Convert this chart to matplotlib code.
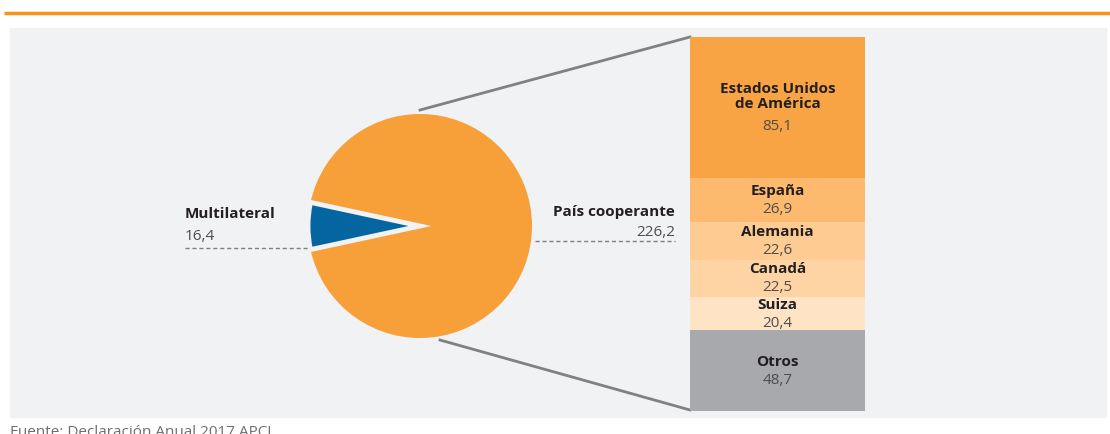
import matplotlib
matplotlib.use('Agg')
import matplotlib.pyplot as plt

# data
pie_labels = ['Multilateral', 'País cooperante']
pie_values = [16.4, 226.2]
pie_texts = ['16,4', '226,2']

paises = ['Estados Unidos\nde América', 'España', 'Alemania', 'Canadá', 'Suiza', 'Otros']
montos = [85.1, 26.9, 22.6, 22.5, 20.4, 48.7]
montos_txt = ['85,1', '26,9', '22,6', '22,5', '20,4', '48,7']

bar_colors = ['#f8a444', '#fdb96e', '#fecb93', '#fed4a4', '#fee3c5', '#a7a9ac']
orange = '#f79f39'
blue = '#0565a0'
bg = '#f1f2f4'
dark = '#231f20'
grey_txt = '#4d4d4f'

plt.rcParams['font.family'] = ['Open Sans', 'DejaVu Sans']

W, H = 1110, 434
fig = plt.figure(figsize=(W / 100, H / 100), dpi=100)

# background axes in pixel units (y downwards)
ax = fig.add_axes([0, 0, 1, 1])
ax.set_xlim(0, W)
ax.set_ylim(H, 0)
ax.axis('off')

ax.add_patch(plt.Rectangle((10, 28), 1096, 389, color=bg, zorder=0))
ax.plot([4, W], [13, 13], color='#f7941d', lw=2.5, solid_capstyle='butt')

# connector lines
ax.plot([420, 690], [110, 37], color='#808184', lw=2)
ax.plot([440, 690], [340, 410], color='#808184', lw=2)

# dashed leader lines
ax.plot([185, 308], [248, 248], color='#808184', lw=1, ls=(0, (3, 2)))
ax.plot([535, 675], [241, 241], color='#808184', lw=1, ls=(0, (3, 2)))

ax.text(185, 214, pie_labels[0], fontsize=11, fontweight='bold', color=dark,
        va='center', ha='left')
ax.text(185, 236, pie_texts[0], fontsize=11, color=grey_txt, va='center', ha='left')
ax.text(675, 212, pie_labels[1], fontsize=11, fontweight='bold', color=dark,
        va='center', ha='right')
ax.text(675, 232, pie_texts[1], fontsize=11, color=grey_txt, va='center', ha='right')

ax.text(10, 440, 'Fuente: Declaración Anual 2017 APCI', fontsize=11,
        color='#6d6e71', va='bottom', ha='left')

# pie
cx, cy, r = 420, 226, 112
pax = fig.add_axes([(cx - r) / W, 1 - (cy + r) / H, 2 * r / W, 2 * r / H])
start = 180 - 360 * pie_values[0] / sum(pie_values) / 2
wedges, _ = pax.pie(pie_values, colors=[blue, orange], startangle=start,
                    counterclock=True, radius=1)
wedges[1].set_edgecolor('none')
wedges[1].set_zorder(1)
wedges[0].set_edgecolor(bg)
wedges[0].set_linewidth(3.5)
wedges[0].set_zorder(2)
pax.set_xlim(-1, 1)
pax.set_ylim(-1, 1)
pax.axis('off')

# stacked bar
bx0, bx1, by0, by1 = 690, 865, 37, 411
bax = fig.add_axes([bx0 / W, 1 - by1 / H, (bx1 - bx0) / W, (by1 - by0) / H])
total = sum(montos)
bottom = 0
for name, val, txt, col in zip(paises, montos, montos_txt, bar_colors):
    bax.bar(0, val, bottom=bottom, width=1, color=col, linewidth=0)
    mid = bottom + val / 2
    two = '\n' in name
    dy_name = 8 if two else 6.5
    dy_val = -14 if two else -7
    bax.annotate(name, (0, mid), xytext=(0, dy_name), textcoords='offset points',
                 ha='center', va='center', fontsize=11, fontweight='bold',
                 color=dark, linespacing=1.05)
    bax.annotate(txt, (0, mid), xytext=(0, dy_val), textcoords='offset points',
                 ha='center', va='center', fontsize=11, color=grey_txt)
    bottom += val
bax.set_xlim(-0.5, 0.5)
bax.set_ylim(total, 0)
bax.axis('off')

fig.savefig('out.png', dpi=100)
